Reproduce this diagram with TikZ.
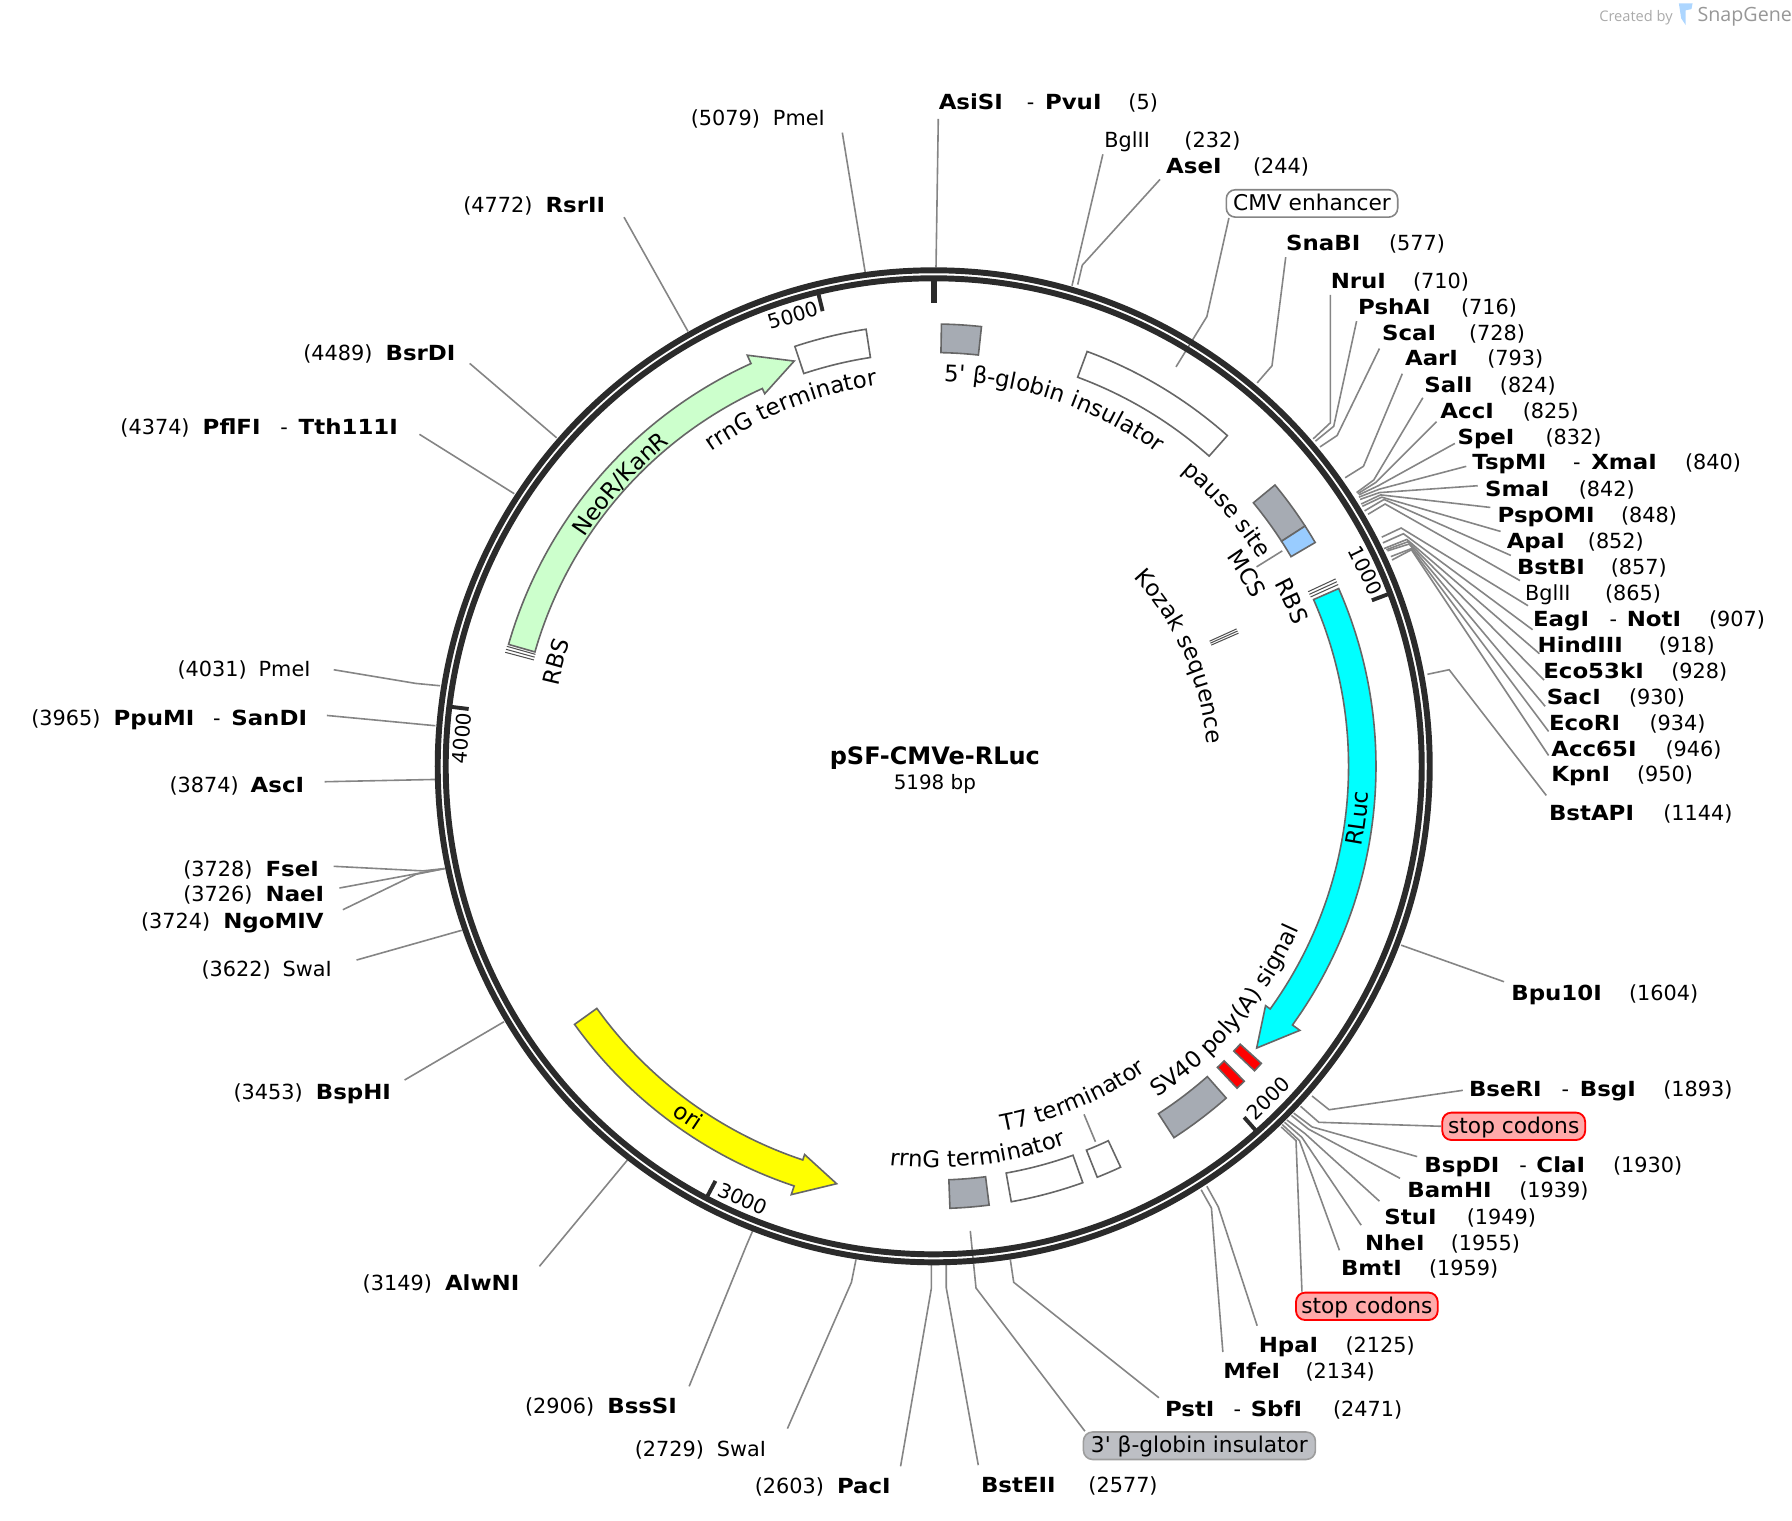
\documentclass[tikz,border=0pt]{standalone}
\usepackage{fontspec}
\setmainfont{DejaVu Sans}
\newfontfamily\logofont{Open Sans}
\newfontfamily\quotefont{DejaVu Sans}
\usetikzlibrary{decorations.text}
\definecolor{ringdark}{HTML}{2B2B2B}
\definecolor{leadgray}{HTML}{858585}
\definecolor{edgegray}{HTML}{666666}
\definecolor{markgray}{HTML}{505050}
\definecolor{featgray}{HTML}{A6ABB3}
\definecolor{mcsblue}{HTML}{99CCFF}
\definecolor{neogreen}{HTML}{CCFFCC}
\definecolor{stoppink}{HTML}{FFAAAA}
\definecolor{bglobgray}{HTML}{BDBFC4}
\definecolor{rlucfill}{HTML}{00FFFF}
\definecolor{orifill}{HTML}{FFFF00}
\definecolor{stopfill}{HTML}{FF0000}
\newlength{\pxu}
\setlength{\pxu}{0.5pt}
\newcommand{\labfont}{\fontsize{9.1}{11}\selectfont}
\newcommand{\featfont}{\fontsize{10}{12}\selectfont}
\newcommand{\bname}[1]{{\bfseries\addfontfeature{FakeStretch=1.1}#1}}
\newcommand{\btxt}[2]{\makebox[#1\pxu][l]{\bname{#2}}}
\newcommand{\ntxt}[2]{\makebox[#1\pxu][l]{#2}}
\newcommand{\featbox}[5][feat]{\draw[#1] ({90-#2}:#4) arc[start angle={90-#2},end angle={90-#3},radius=#4] -- ({90-#3}:#5) arc[start angle={90-#3},end angle={90-#2},radius=#5] -- cycle;}
\newcommand{\featarrow}[4][feat]{\draw[#1] ({90-#2}:387) arc[start angle={90-#2},end angle={90-#3},radius=387] -- ({90-#3}:395) -- ({90-#4}:375) -- ({90-#3}:358) -- ({90-#3}:363) arc[start angle={90-#3},end angle={90-#2},radius=363] -- cycle;}
\newcommand{\cwlabel}[3]{\path[decorate,decoration={text along path,text align=center,text={|\featfont|#3}}] ({90-#2+70}:#1) arc[start angle={90-#2+70},end angle={90-#2-70},radius=#1];}
\newcommand{\ccwlabel}[3]{\path[decorate,decoration={text along path,text align=center,text={|\featfont|#3}}] ({90-#2-70}:#1) arc[start angle={90-#2-70},end angle={90-#2+70},radius=#1];}
\newcommand{\triplemark}[3]{\foreach \dd in {-0.4,0,0.4} \draw[markline] ({90-#1+\dd}:#2) -- ({90-#1+\dd}:#3);}
\tikzset{
  sitelabel/.style={anchor=base west,inner sep=0pt,yshift=-3.5pt,font=\labfont},
  ticklabel/.style={inner sep=0pt,font=\fontsize{8.8}{10}\selectfont},
  lead/.style={draw=leadgray,line width=0.7pt},
  feat/.style={draw=edgegray,line width=0.7pt,fill=white},
  markline/.style={draw=markgray,line width=0.45pt},
  tagbox/.style={rounded corners=4pt,inner sep=0pt,minimum height=12pt,text height=8pt,text depth=1.9pt,font=\fontsize{9.5}{11}\selectfont}
}
\begin{document}
\begin{tikzpicture}[x=0.5pt,y=-0.5pt]
\useasboundingbox (0,0) rectangle (1568,1330);

\node[anchor=west,inner sep=0pt,text=leadgray!70,font=\logofont\fontsize{6.4}{8}\selectfont] (createdby) at (1399,15.5) {Created by};
\node[anchor=west,inner sep=0pt,text=leadgray!85,font=\logofont\fontsize{8.6}{10}\selectfont] (snapgene) at (1485,15) {SnapGene};
\fill[mcsblue!80] (1469,3) -- (1481,3) -- (1480,8) -- (1475,9) -- (1475,22) -- (1471,16) -- cycle;

\node[inner sep=0pt,font=\fontsize{10.5}{12}\bfseries\selectfont] (title) at (818,663) {pSF-CMVe-RLuc};
\node[inner sep=0pt,font=\fontsize{8.7}{10}\selectfont] (size) at (818,686) {5198 bp};

\foreach \nm/\lx/\ly/\txt in {
  AsiSI/821/89/{\btxt{77}{AsiSI}\ntxt{16}{-}\btxt{73}{PvuI}(5)},
  BglIIa/966/122/{\ntxt{70}{BglII}(232)},
  AseI/1020/145/{\btxt{76}{AseI}(244)},
  SnaBI/1125/212/{\btxt{90}{SnaBI}(577)},
  NruI/1164/245/{\btxt{72}{NruI}(710)},
  PshAI/1188/268/{\btxt{90}{PshAI}(716)},
  ScaI/1209/291/{\btxt{76}{ScaI}(728)},
  AarI/1229/313/{\btxt{72}{AarI}(793)},
  SalI/1246/336/{\btxt{66}{SalI}(824)},
  AccI/1260/359/{\btxt{72}{AccI}(825)},
  SpeI/1275/382/{\btxt{77}{SpeI}(832)},
  TspMI/1288/404/{\btxt{88}{TspMI}\ntxt{16}{-}\btxt{82}{XmaI}(840)},
  SmaI/1299/427/{\btxt{82}{SmaI}(842)},
  PspOMI/1310/450/{\btxt{108}{PspOMI}(848)},
  ApaI/1318/473/{\btxt{71}{ApaI}(852)},
  BstBI/1327/496/{\btxt{82}{BstBI}(857)},
  BglIIb/1334/518/{\ntxt{70}{BglII}(865)},
  EagI/1341/541/{\btxt{67}{EagI}\ntxt{15}{-}\btxt{72}{NotI}(907)},
  HindIII/1345/564/{\btxt{106}{HindIII}(918)},
  Eco53kI/1350/587/{\btxt{112}{Eco53kI}(928)},
  SacI/1353/609/{\btxt{72}{SacI}(930)},
  EcoRI/1355/632/{\btxt{88}{EcoRI}(934)},
  Acc65I/1357/655/{\btxt{100}{Acc65I}(946)},
  KpnI/1357/677/{\btxt{75}{KpnI}(950)},
  BstAPI/1355/711/{\btxt{100}{BstAPI}(1144)},
  Bpu10I/1322/868/{\btxt{103}{Bpu10I}(1604)},
  BseRI/1285/952/{\btxt{81}{BseRI}\ntxt{16}{-}\btxt{73}{BsgI}(1893)},
  BspDI/1246/1019/{\btxt{83}{BspDI}\ntxt{15}{-}\btxt{67}{ClaI}(1930)},
  BamHI/1231/1041/{\btxt{98}{BamHI}(1939)},
  StuI/1211/1064/{\btxt{72}{StuI}(1949)},
  NheI/1194/1087/{\btxt{75}{NheI}(1955)},
  BmtI/1173/1109/{\btxt{77}{BmtI}(1959)},
  HpaI/1101/1176/{\btxt{76}{HpaI}(2125)},
  MfeI/1070/1199/{\btxt{72}{MfeI}(2134)},
  PstI/1019/1232/{\btxt{60}{PstI}\ntxt{15}{-}\btxt{72}{SbfI}(2471)},
  BstEII/858/1299/{\btxt{94}{BstEII}(2577)},
  PacI/660/1300/{\ntxt{72}{(2603)}\bname{PacI}},
  SwaIb/555/1267/{\ntxt{72}{(2729)}SwaI},
  BssSI/459/1230/{\ntxt{72}{(2906)}\bname{BssSI}},
  AlwNI/317/1122/{\ntxt{72}{(3149)}\bname{AlwNI}},
  BspHI/204/955/{\ntxt{72}{(3453)}\bname{BspHI}},
  SwaIa/176/847/{\ntxt{71}{(3622)}SwaI},
  NgoMIV/123/805/{\ntxt{72}{(3724)}\bname{NgoMIV}},
  NaeI/160/782/{\ntxt{72}{(3726)}\bname{NaeI}},
  FseI/160/760/{\ntxt{72}{(3728)}\bname{FseI}},
  AscI/148/686/{\ntxt{71}{(3874)}\bname{AscI}},
  PpuMI/27/628/{\ntxt{72}{(3965)}\btxt{87}{PpuMI}\ntxt{16}{-}\bname{SanDI}},
  PmeIb/155/585/{\ntxt{71}{(4031)}PmeI},
  PflFI/105/373/{\ntxt{72}{(4374)}\btxt{68}{PflFI}\ntxt{16}{-}\bname{Tth111I}},
  BsrDI/265/308/{\ntxt{72}{(4489)}\bname{BsrDI}},
  RsrII/405/179/{\ntxt{72}{(4772)}\bname{RsrII}},
  PmeIa/604/103/{\ntxt{72}{(5079)}PmeI}}
  \node[sitelabel] (\nm) at (\lx,\ly) {\txt};

\node[tagbox,draw=leadgray,line width=0.7pt,fill=white,minimum width=75pt] (cmv) at (1148,178) {CMV enhancer};
\node[tagbox,draw=red,line width=0.8pt,fill=stoppink,minimum width=62.5pt] (stopA) at (1324.5,985.5) {stop codons};
\node[tagbox,draw=red,line width=0.8pt,fill=stoppink,minimum width=62pt] (stopB) at (1196,1143) {stop codons};
\node[tagbox,draw=leadgray!80,line width=0.7pt,fill=bglobgray,minimum width=101.5pt] (bglob) at (1049.5,1265) {3{\quotefont'} β-globin insulator};

\foreach \nm/\rx/\ry/\ex/\ey/\lx/\ly in {
  AseI/943/249/947/232/1015/157,
  SnaBI/1100/335/1113/320/1125/225,
  NruI/1149/384/1164/370/1164/258,
  PshAI/1151/386/1167/373/1187/281,
  ScaI/1155/391/1170/381/1207/305,
  AarI/1177/418/1193/408/1227/327,
  SalI/1187/431/1202/420/1245/348,
  AccI/1188/432/1204/422/1257/369,
  SpeI/1189/433/1206/425/1273/388,
  TspMI/1189/435/1207/428/1283/408,
  SmaI/1190/437/1207/431/1293/425,
  PspOMI/1191/441/1208/433/1304/444,
  ApaI/1192/443/1209/435/1313/465,
  BstBI/1194/447/1211/437/1322/486,
  BglIIb/1197/450/1212/441/1330/508,
  EagI/1209/470/1226/462/1337/530,
  HindIII/1210/475/1228/467/1341/551,
  Eco53kI/1211/480/1231/472/1347/572,
  SacI/1213/481/1232/474/1351/595,
  EcoRI/1214/482/1233/476/1352/618,
  Acc65I/1217/487/1235/480/1355/640,
  KpnI/1218/490/1235/481/1355/661,
  BstAPI/1249/590/1268/586/1353/696,
  BseRI/1148/959/1163/971/1280/954,
  BspDI/1132/974/1148/986/1240/1012,
  BamHI/1130/976/1145/988/1225/1031,
  StuI/1126/980/1142/992/1207/1051,
  NheI/1124/982/1139/995/1191/1072,
  BmtI/1122/984/1137/998/1172/1094,
  HpaI/1056/1038/1066/1056/1100/1160,
  MfeI/1051/1041/1060/1057/1070/1183,
  PstI/884/1102/887/1122/1014/1223,
  BstEII/828/1107/828/1127/856/1282,
  PacI/815/1107/815/1127/788/1283,
  SwaIb/749/1102/745/1122/689/1250,
  BssSI/659/1076/653/1090/603/1213,
  FseI/389/760/370/762/292/758,
  NaeI/389/760/367/764/297/777,
  NgoMIV/389/760/364/765/300/796,
  PmeIb/385/600/364/598/292/586}
{
  \coordinate (\nm-ring) at (\rx,\ry);
  \coordinate (\nm-bend) at (\ex,\ey);
  \coordinate (\nm-end) at (\lx,\ly);
  \draw[lead] (\nm-ring) -- (\nm-bend) -- (\nm-end);
}

\foreach \nm/\rx/\ry/\lx/\ly in {
  PmeIa/757/238/737/116,
  AsiSI/819/234/821/104,
  BglIIa/938/250/965/135,
  Bpu10I/1226/827/1316/859,
  AlwNI/549/1015/472/1108,
  BspHI/441/894/354/945,
  SwaIa/404/814/312/840,
  AscI/381/682/284/684,
  PpuMI/381/635/286/626,
  PflFI/450/432/367/380,
  BsrDI/487/383/411/318,
  RsrII/602/290/546/190}
{
  \coordinate (\nm-ring) at (\rx,\ry);
  \coordinate (\nm-end) at (\lx,\ly);
  \draw[lead] (\nm-ring) -- (\nm-end);
}

\coordinate (cmv-bend) at (1056,277);
\coordinate (cmv-foot) at (1029,321);
\draw[lead] ([xshift=1.5pt]cmv.south west) -- (cmv-bend) -- (cmv-foot);
\coordinate (stopA-bend) at (1154,982);
\coordinate (stopA-ring) at (1138,968);
\draw[lead] (stopA.west) -- (stopA-bend) -- (stopA-ring);
\coordinate (stopB-bend) at (1134,998);
\coordinate (stopB-ring) at (1121,986);
\draw[lead] ([xshift=3pt]stopB.north west) -- (stopB-bend) -- (stopB-ring);
\coordinate (bglob-bend) at (854,1127);
\coordinate (bglob-foot) at (849,1077);
\draw[lead] ([xshift=1pt]bglob.north west) -- (bglob-bend) -- (bglob-foot);
\coordinate (mcs-a) at (1099.5,496);
\coordinate (mcs-b) at (1122,482);
\draw[lead] (mcs-a) -- (mcs-b);
\coordinate (t7-a) at (948.5,975);
\coordinate (t7-b) at (958.5,999);
\draw[lead] (t7-a) -- (t7-b);

\node[ticklabel,rotate=17] (lab5000) at (694,276) {5000};
\node[ticklabel,rotate=-64] (lab1000) at (1195,499) {1000};
\node[ticklabel,rotate=45] (lab2000) at (1110,961) {2000};
\node[ticklabel,rotate=-24] (lab3000) at (650,1049) {3000};
\node[ticklabel,rotate=85] (lab4000) at (404,646) {4000};

\begin{scope}[shift={(817,670.5)},y=0.5pt]
\draw[ringdark,line width=2.6pt] (0,0) circle[radius=434];
\draw[ringdark,line width=2.6pt] (0,0) circle[radius=427];
\draw[ringdark,line width=2.6pt] (90:425) -- (90:405);
\foreach \bp in {1000,2000,3000,4000,5000}
  \draw[ringdark,line width=1.7pt] ({90-\bp/5198*360}:425) -- ({90-\bp/5198*360}:410);

\featbox[feat,fill=featgray]{1.0}{6.2}{387}{362}
\featbox{20.3}{41.6}{387}{363}
\featbox[feat,fill=featgray]{50.5}{57.1}{387}{362.5}
\featbox[feat,fill=mcsblue]{57.1}{59.6}{387}{362.5}
\featarrow[feat,fill=rlucfill]{66.3}{125.8}{131.1}
\featbox[feat,fill=stopfill]{132.2}{133.5}{387}{362}
\featbox[feat,fill=stopfill]{135.4}{136.7}{387}{362}
\featbox[feat,fill=featgray]{138.6}{147.1}{387}{362}
\featbox{155}{158.3}{387}{361.5}
\featbox{160.3}{169.9}{387}{361.5}
\featbox[feat,fill=featgray]{172.8}{177.9}{387}{362}
\featarrow[feat,fill=orifill]{234.3}{198.4}{193.1}
\featarrow[feat,fill=neogreen]{286}{335.6}{341}
\featbox{341.7}{351.2}{387}{362}
\triplemark{65.4}{361.5}{388}
\triplemark{285.3}{362}{388}
\triplemark{66}{265}{291}

\cwlabel{337}{18.5}{5{\quotefont'} β-globin insulator}
\cwlabel{337}{48.8}{pause site}
\cwlabel{315}{58.4}{MCS}
\cwlabel{338}{65.2}{RBS}
\cwlabel{240}{66}{Kozak sequence}
\ccwlabel{381}{97}{RLuc}
\ccwlabel{350}{130}{SV40 poly(A) signal}
\ccwlabel{325}{157.2}{T7 terminator}
\ccwlabel{351}{173.5}{rrnG terminator}
\ccwlabel{381}{215}{ori}
\cwlabel{336}{285.5}{RBS}
\cwlabel{365}{312}{NeoR/KanR}
\cwlabel{337}{338.2}{rrnG terminator}
\end{scope}
\end{tikzpicture}
\end{document}
